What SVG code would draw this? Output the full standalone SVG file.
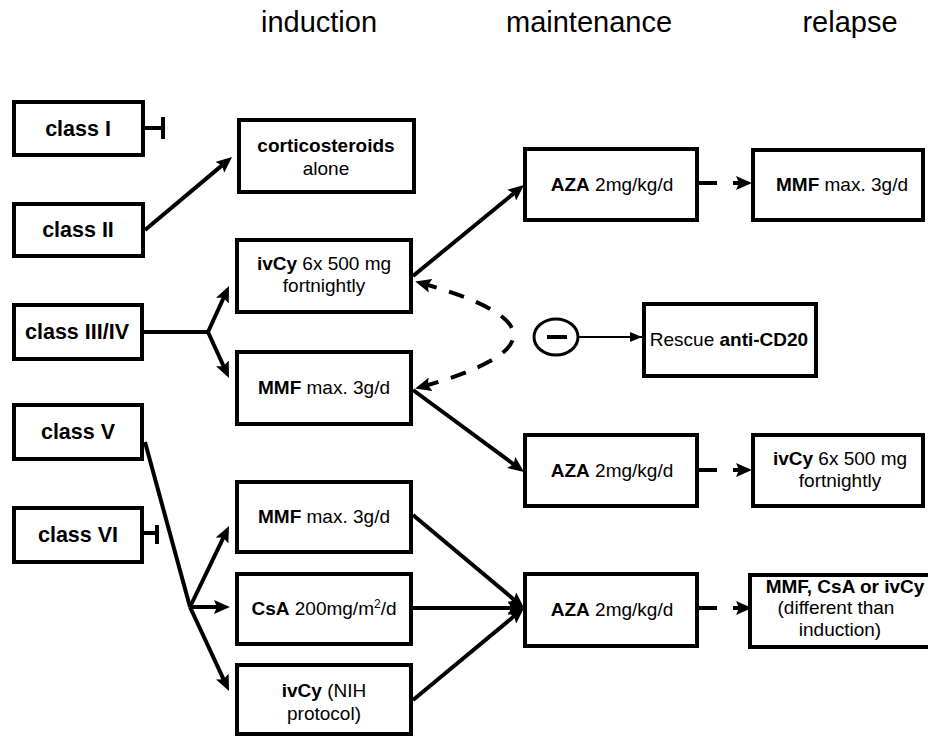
<svg xmlns="http://www.w3.org/2000/svg" width="928" height="737" viewBox="0 0 928 737">
<style>
.box{fill:#fff;stroke:#000;stroke-width:4}
.t{font-family:"Liberation Sans",Arial,sans-serif;font-size:19px;fill:#000;text-anchor:middle}
.c{font-family:"Liberation Sans",Arial,sans-serif;font-size:21.5px;font-weight:bold;fill:#000;text-anchor:middle}
.h{font-family:"Liberation Sans",Arial,sans-serif;font-size:29px;fill:#000;text-anchor:middle}
.b{font-weight:bold}
.ln{fill:none;stroke:#000;stroke-width:4}
.arr{fill:none;stroke:#000;stroke-width:4;marker-end:url(#ah)}
.dash{fill:none;stroke:#000;stroke-width:4;stroke-dasharray:18 16;marker-end:url(#ah)}
</style>
<defs>
<marker id="ah" markerUnits="userSpaceOnUse" markerWidth="16" markerHeight="14" refX="10" refY="7" orient="auto-start-reverse">
<path d="M0,0 L16,7 L0,14 L3,7 z" fill="#000"/>
</marker>
<marker id="ahs" markerUnits="userSpaceOnUse" markerWidth="12" markerHeight="10" refX="12" refY="5" orient="auto">
<path d="M0,0 L12,5 L0,10 z" fill="#000"/>
</marker>
</defs>
<rect width="928" height="737" fill="#fff"/>
<g id="headers">
<text class="h" x="319" y="32">induction</text>
<text class="h" x="589" y="32">maintenance</text>
<text class="h" x="850" y="32">relapse</text>
</g>
<g id="connectors">
<path class="ln" d="M143,128 H161"/>
<path class="ln" d="M163,117 V139"/>
<path class="arr" d="M145,230 L227.4,160.9"/>
<path class="ln" d="M143,332 H208"/>
<path class="arr" d="M208,332 L226.5,291.5"/>
<path class="arr" d="M208,332 L226.5,372.5"/>
<path class="ln" d="M145,442 L190,607"/>
<path class="arr" d="M190,607 L226.4,531.4"/>
<path class="arr" d="M190,607 H224"/>
<path class="arr" d="M190,607 L226.5,685.6"/>
<path class="ln" d="M143,533 H156"/>
<path class="ln" d="M157,525 V544"/>
<path class="arr" d="M413,276 L519.4,188.8"/>
<path class="arr" d="M413,390 L519.2,468.4"/>
<path class="arr" d="M413,515 L519.4,604.1"/>
<path class="arr" d="M413,608 H518"/>
<path class="arr" d="M413,700 L519.4,611.8"/>
<path class="dash" d="M699,183 H746"/>
<path class="dash" d="M699,470 H746"/>
<path class="dash" d="M699,608 H746"/>
<path fill="none" stroke="#000" stroke-width="4" stroke-dasharray="16 13" marker-start="url(#ah)" marker-end="url(#ah)" d="M421,283 Q606,335 421,387"/>
<path fill="none" stroke="#000" stroke-width="2" marker-end="url(#ahs)" d="M579,337 H642"/>
</g>
<g id="inhibit">
<ellipse cx="556" cy="337" rx="22" ry="18" fill="#fff" stroke="#000" stroke-width="3"/>
<path d="M547,337 H567" stroke="#000" stroke-width="4"/>
</g>
<g id="classI"><rect class="box" x="14" y="102" width="129" height="53"/><text class="c" x="78" y="136">class I</text></g>
<g id="classII"><rect class="box" x="14" y="204" width="129" height="52"/><text class="c" x="78" y="237">class II</text></g>
<g id="classIIIIV"><rect class="box" x="14" y="305" width="128" height="54"/><text class="c" x="77" y="339">class III/IV</text></g>
<g id="classV"><rect class="box" x="14" y="405" width="128" height="54"/><text class="c" x="78" y="439">class V</text></g>
<g id="classVI"><rect class="box" x="14" y="508" width="128" height="54"/><text class="c" x="78" y="542">class VI</text></g>
<g id="cortico"><rect class="box" x="239" y="120" width="175" height="72"/><text class="t" x="326" y="152"><tspan class="b">corticosteroids</tspan></text><text class="t" x="326" y="175">alone</text></g>
<g id="ivcyInd"><rect class="box" x="237" y="240" width="174" height="72"/><text class="t" x="324" y="270"><tspan class="b">ivCy</tspan> 6x 500 mg</text><text class="t" x="324" y="292">fortnightly</text></g>
<g id="mmfInd"><rect class="box" x="237" y="352" width="174" height="72"/><text class="t" x="324" y="394"><tspan class="b">MMF</tspan> max. 3g/d</text></g>
<g id="mmfInd2"><rect class="box" x="237" y="482" width="174" height="70"/><text class="t" x="324" y="523"><tspan class="b">MMF</tspan> max. 3g/d</text></g>
<g id="csa"><rect class="box" x="237" y="574" width="174" height="70"/><text class="t" x="324" y="615"><tspan class="b">CsA</tspan> 200mg/m<tspan font-size="12" dy="-7">2</tspan><tspan dy="7">/d</tspan></text></g>
<g id="ivcyNih"><rect class="box" x="237" y="665" width="174" height="69"/><text class="t" x="324" y="697"><tspan class="b">ivCy</tspan> (NIH</text><text class="t" x="324" y="720">protocol)</text></g>
<g id="azaTop"><rect class="box" x="525" y="149" width="172" height="71"/><text class="t" x="612" y="191"><tspan class="b">AZA</tspan> 2mg/kg/d</text></g>
<g id="mmfRel"><rect class="box" x="753" y="150" width="170" height="70"/><text class="t" x="842" y="191"><tspan class="b">MMF</tspan> max. 3g/d</text></g>
<g id="rescue"><rect class="box" x="644" y="304" width="172" height="72"/><text class="t" x="729" y="346">Rescue <tspan class="b">anti-CD20</tspan></text></g>
<g id="azaMid"><rect class="box" x="525" y="435" width="172" height="71"/><text class="t" x="612" y="477"><tspan class="b">AZA</tspan> 2mg/kg/d</text></g>
<g id="ivcyRel"><rect class="box" x="753" y="435" width="170" height="71"/><text class="t" x="840" y="465"><tspan class="b">ivCy</tspan> 6x 500 mg</text><text class="t" x="840" y="487">fortnightly</text></g>
<g id="azaBot"><rect class="box" x="525" y="574" width="172" height="72"/><text class="t" x="612" y="616"><tspan class="b">AZA</tspan> 2mg/kg/d</text></g>
<g id="rel3"><rect class="box" x="750" y="575" width="190" height="72"/><text class="t" x="845" y="593"><tspan class="b">MMF, CsA or ivCy</tspan></text><text class="t" x="836" y="614">(different than</text><text class="t" x="840" y="636">induction)</text></g>
</svg>
